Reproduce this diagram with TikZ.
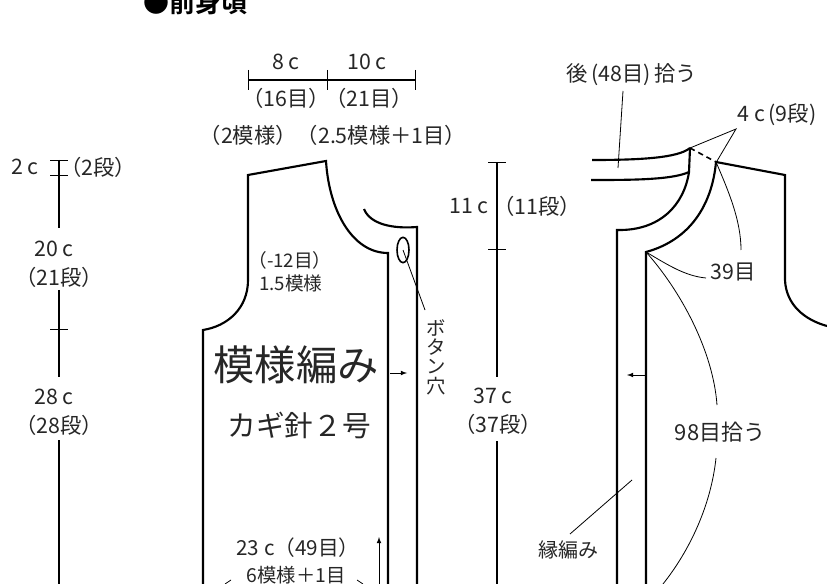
\documentclass[tikz,border=0pt]{standalone}
\usepackage{fontspec}
\setmainfont{Noto Sans CJK JP}
\newfontfamily\titlefont{Noto Sans CJK JP Bold}
\usetikzlibrary{calc,shapes.geometric}
\tikzset{
  lbl/.style={inner sep=0pt,text=black!85,font=\fontsize{16}{18}\selectfont},
  lblsmall/.style={lbl,font=\fontsize{14.5}{18}\selectfont},
  outline/.style={line width=1.6pt,line join=miter},
  dimline/.style={line width=.9pt},
  leader/.style={line width=.6pt},
  flow/.style={line width=.6pt,-latex}
}
\begin{document}
\begin{tikzpicture}[x=.75pt,y=-.75pt]
    \useasboundingbox (0,0) rectangle (827,584);
    \clip (0,0) rectangle (827,584);

    \node (title) at (195,3) [inner sep=0pt,font=\fontsize{19.5}{22}\titlefont] {●前身頃};

    % top measure
    \coordinate (topA) at (248,80);
    \coordinate (topB) at (327,80);
    \coordinate (topC) at (415,80);
    \draw[dimline] (topA) -- (topB) -- (topC);
    \draw[leader] ($(topA)+(0,-10)$) -- ($(topA)+(0,10)$);
    \draw[leader] ($(topB)+(0,-10)$) -- ($(topB)+(0,10)$);
    \draw[leader] ($(topC)+(0,-10)$) -- ($(topC)+(0,10)$);
    \node (w8) at (286,62) [lbl] {8 c};
    \node (w10) at (367,62) [lbl] {10 c};
    \node (st16) at (286,98) [lbl] {（16目）};
    \node (st21) at (369,98) [lbl] {（21目）};
    \node (rep) at (333,135) [lbl] {（2模様）（2.5模様＋1目）};

    % left measure
    \coordinate (lA) at (59,160);
    \coordinate (lB) at (59,175);
    \coordinate (lC) at (59,228);
    \coordinate (lD) at (59,290);
    \coordinate (lE) at (59,329);
    \coordinate (lF) at (59,377);
    \coordinate (lG) at (59,440);
    \coordinate (lH) at (59,584);
    \draw[dimline] (lA) -- (lB) -- (lC);
    \draw[dimline] (lD) -- (lE) -- (lF);
    \draw[dimline] (lG) -- (lH);
    \draw[leader] ($(lA)+(-9,0)$) -- ($(lA)+(9,0)$);
    \draw[leader] ($(lB)+(-9,0)$) -- ($(lB)+(9,0)$);
    \draw[leader] ($(lE)+(-9,0)$) -- ($(lE)+(9,0)$);
    \node (h2) at (25,167) [lbl] {2 c};
    \node (r2) at (98,167) [lbl] {（2段）};
    \node (h20) at (54,249) [lbl] {20 c};
    \node (r21) at (59,277) [lbl] {（21段）};
    \node (h28) at (54,397) [lbl] {28 c};
    \node (r28) at (59,425) [lbl] {（28段）};

    % left front
    \coordinate (sh1) at (248,175);
    \coordinate (sh2) at (326,161);
    \coordinate (nk1) at (388,253);
    \coordinate (hem1) at (388,584);
    \coordinate (ar1) at (248,280);
    \coordinate (ar2) at (203,330);
    \coordinate (hem2) at (203,584);
    \draw[outline] (hem2) -- (ar2) .. controls (228,326) and (248,308) .. (ar1) -- (sh1) -- (sh2) .. controls (329,210) and (352,253) .. (nk1) -- (hem1);
    \coordinate (bd1) at (364,209);
    \coordinate (bd2) at (417,227);
    \coordinate (hem3) at (417,584);
    \draw[outline] (bd1) .. controls (370,224) and (392,229) .. (bd2) -- (hem3);
    \node (hole) at (403,250) [draw,ellipse,line width=1.2pt,minimum width=9pt,minimum height=19pt,inner sep=0pt] {};
    \coordinate (holeEnd) at (425,310);
    \draw[leader] (hole.center) -- (holeEnd);
    \node (holeTxt) at (436,357) [lblsmall,align=center,font=\fontsize{14.5}{14.5}\selectfont] {ボ\\タ\\ン\\穴};
    \coordinate (arA) at (390,373);
    \coordinate (arB) at (407,373);
    \draw[flow] (arA) -- (arB);
    \coordinate (upA) at (379,584);
    \coordinate (upB) at (379,537);
    \draw[flow] (upA) -- (upB);
    \node (dec) at (290,260) [lbl,font=\fontsize{14}{16}\selectfont] {（-12目）};
    \node (dec2) at (291,283) [lbl,font=\fontsize{14}{16}\selectfont] {1.5模様};
    \node (patt) at (296,365) [lbl,font=\fontsize{31}{33}\selectfont] {模様編み};
    \node (hook) at (299,425) [lbl,font=\fontsize{21.5}{24}\selectfont] {カギ針２号};
    \node (w23) at (298,548) [lbl,font=\fontsize{15.5}{18}\selectfont] {23 c（49目）};
    \node (w6) at (296,575) [lblsmall] {6模様＋1目};
    \coordinate (wLa) at (231,580);
    \coordinate (wLb) at (225,584);
    \coordinate (wRa) at (357,580);
    \coordinate (wRb) at (363,584);
    \draw[leader] (wLa) -- (wLb);
    \draw[leader] (wRa) -- (wRb);

    % middle measure
    \coordinate (mA) at (497,162);
    \coordinate (mB) at (497,249);
    \coordinate (mC) at (497,377);
    \coordinate (mD) at (497,441);
    \coordinate (mE) at (497,584);
    \draw[dimline] (mA) -- (mB) -- (mC);
    \draw[dimline] (mD) -- (mE);
    \draw[leader] ($(mA)+(-9,0)$) -- ($(mA)+(9,0)$);
    \draw[leader] ($(mB)+(-9,0)$) -- ($(mB)+(9,0)$);
    \node (h11) at (469,206) [lbl] {11 c};
    \node (r11) at (537,206) [lbl] {（11段）};
    \node (h37) at (493,396) [lbl] {37 c};
    \node (r37) at (498,424) [lbl] {（37段）};

    % right front
    \coordinate (bk1) at (592,160);
    \coordinate (bk2) at (690,148);
    \coordinate (bk3) at (591,180);
    \coordinate (bk4) at (689,172);
    \coordinate (cl1) at (617,230);
    \coordinate (hem4) at (617,584);
    \coordinate (sh3) at (716,162);
    \coordinate (nk2) at (646,252);
    \coordinate (hem5) at (646,584);
    \coordinate (sh4) at (785,175);
    \coordinate (ar3) at (785,280);
    \coordinate (ar4) at (827,326);
    \draw[outline] (bk1) .. controls (640,160) and (678,158) .. (bk2);
    \draw[outline] (bk3) .. controls (630,180) and (672,180) .. (bk4);
    \draw[outline] (bk2) -- (bk4) .. controls (684,205) and (660,231) .. (cl1) -- (hem4);
    \draw[outline] (hem5) -- (nk2) .. controls (690,240) and (712,205) .. (sh3) -- (sh4) -- (ar3) .. controls (786,305) and (805,320) .. (ar4);
    \draw[line width=1.2pt,dash pattern=on 4pt off 3pt] (bk2) -- (sh3);
    \node (pick) at (632,75) [lbl] {後\,(48目)\,拾う};
    \coordinate (pickA) at (623,91);
    \coordinate (pickB) at (618,168);
    \draw[leader] (pickA) -- (pickB);
    \node (w4) at (777,115) [lbl] {4 c\,(9段)};
    \coordinate (w4tip) at (736,129);
    \draw[leader] (bk2) -- (w4tip) -- ($(sh3)+(1,-1)$);
    \node (n39) at (733,272) [lbl] {39目};
    \coordinate (n39a) at (741,250);
    \coordinate (n39b) at (706,278);
    \draw[leader] (sh3) .. controls (728,190) and (741,220) .. (n39a);
    \draw[leader] (nk2) .. controls (668,265) and (685,276) .. (n39b);
    \node (n98) at (720,432) [lbl,font=\fontsize{16.5}{18}\selectfont] {98目拾う};
    \coordinate (n98a) at (717,405);
    \coordinate (n98b) at (716,458);
    \coordinate (n98c) at (663,584);
    \draw[leader] (nk2) .. controls (680,290) and (713,350) .. (n98a);
    \draw[leader] (n98b) .. controls (711,505) and (690,550) .. (n98c);
    \coordinate (arC) at (645,375);
    \coordinate (arD) at (627,375);
    \draw[flow] (arC) -- (arD);
    \node (edge) at (568,550) [lbl,font=\fontsize{15}{18}\selectfont] {縁編み};
    \coordinate (edgeA) at (632,480);
    \coordinate (edgeB) at (570,534);
    \draw[leader] (edgeA) -- (edgeB);
\end{tikzpicture}
\end{document}
